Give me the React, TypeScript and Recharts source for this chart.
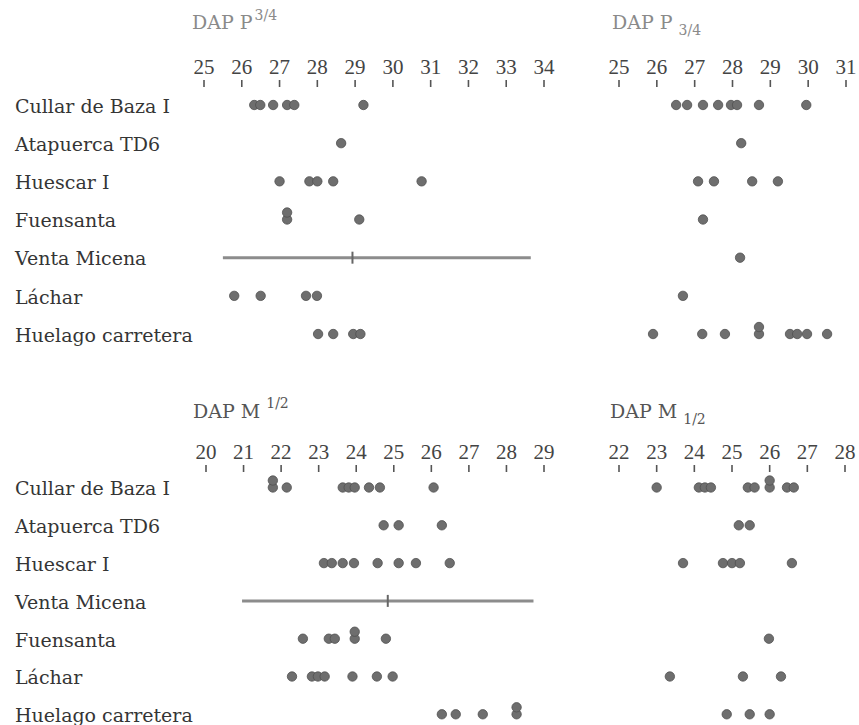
import React from 'react';
import { ScatterChart, Scatter, XAxis, YAxis, ReferenceLine } from 'recharts';

const rowsTopLabels = ['Cullar de Baza I', 'Atapuerca TD6', 'Huescar I', 'Fuensanta', 'Venta Micena', 'Láchar', 'Huelago carretera'];
const rowsBottomLabels = ['Cullar de Baza I', 'Atapuerca TD6', 'Huescar I', 'Venta Micena', 'Fuensanta', 'Láchar', 'Huelago carretera'];

const ticksP34 = [25, 26, 27, 28, 29, 30, 31, 32, 33, 34];
const ticksP34low = [25, 26, 27, 28, 29, 30, 31];
const ticksM12 = [20, 21, 22, 23, 24, 25, 26, 27, 28, 29];
const ticksM12low = [22, 23, 24, 25, 26, 27, 28];

// DAP P3/4 (rows in rowsTopLabels order); repeated values are stacked dots
const p34Values: number[][] = [
  [26.33, 26.49, 26.83, 27.2, 27.39, 29.22],
  [28.63],
  [27.0, 27.79, 28.0, 28.42, 30.76],
  [27.2, 27.2, 29.11],
  [],
  [25.8, 26.5, 27.7, 27.99],
  [28.02, 28.42, 28.95, 29.14],
];
const p34VentaRange = { min: 25.5, mean: 28.93, max: 33.65 };

// DAP P3/4 lower
const p34lowValues: number[][] = [
  [26.51, 26.8, 27.22, 27.62, 27.96, 28.12, 28.7, 29.95],
  [28.23],
  [27.09, 27.51, 28.52, 29.2],
  [27.22],
  [28.2],
  [26.69],
  [25.9, 27.2, 27.8, 28.7, 28.7, 29.52, 29.71, 29.97, 30.5],
];

// DAP M1/2 (rows in rowsBottomLabels order)
const m12Values: number[][] = [
  [21.78, 21.78, 22.15, 23.64, 23.8, 23.96, 24.34, 24.63, 26.06],
  [24.73, 25.13, 26.28],
  [23.14, 23.35, 23.64, 23.94, 24.57, 25.13, 25.59, 26.49],
  [],
  [22.58, 23.27, 23.43, 23.96, 23.96, 24.79],
  [22.29, 22.82, 22.98, 23.16, 23.9, 24.55, 24.97],
  [26.28, 26.65, 27.37, 28.27, 28.27],
];
const m12VentaRange = { min: 20.96, mean: 24.84, max: 28.72 };

// DAP M1/2 lower
const m12lowValues: number[][] = [
  [23.0, 24.12, 24.28, 24.44, 25.42, 25.6, 26.0, 26.0, 26.46, 26.64],
  [25.18, 25.47],
  [23.7, 24.76, 25.0, 25.21, 26.59],
  [],
  [25.98],
  [23.35, 25.29, 26.3],
  [24.86, 25.47, 26.0],
];

const SERIF = 'DejaVu Serif';
const TICK_SERIF = 'Liberation Serif';
const ROW_TICKS = [0, 1, 2, 3, 4, 5, 6];

type Pt = { x: number; y: number; s: number };

function buildPoints(rows: number[][]): Pt[] {
  const pts: Pt[] = [];
  rows.forEach((vals, r) => {
    vals.forEach((v, j) => {
      const s = vals.slice(0, j).filter((u) => u === v).length;
      pts.push({ x: v, y: r, s });
    });
  });
  return pts;
}

const Dot = (props: any) => {
  const { cx, cy, payload } = props;
  if (cx == null || cy == null) return null;
  return <circle cx={cx} cy={cy - (payload?.s || 0) * 7} r={4.7} fill="#6e6e6e" stroke="#505050" strokeWidth={0.8} />;
};

const MeanTick = (props: any) => {
  const { cx, cy } = props;
  if (cx == null || cy == null) return null;
  return <line x1={cx} x2={cx} y1={cy - 6} y2={cy + 6} stroke="#666" strokeWidth={2} />;
};

const XTick = (tp: any) => {
  const { x, y, payload } = tp;
  return (
    <text x={x} y={y} textAnchor="middle" fill="#444" fontSize={21} fontFamily={TICK_SERIF} style={{ fontFamily: TICK_SERIF }}>
      {payload?.value}
    </text>
  );
};

type PanelProps = {
  left: number;
  top: number;
  width: number;
  plotLeft: number;
  plotRight: number;
  plotTop: number;
  firstRow: number;
  rowGap: number;
  domain: [number, number];
  ticks: number[];
  values: number[][];
  range?: { min: number; mean: number; max: number };
  rangeRow?: number;
  labels?: string[];
};

function Panel(p: PanelProps) {
  const yMin = -(p.firstRow - p.plotTop) / p.rowGap;
  const yMax = 6.45;
  const plotH = (yMax - yMin) * p.rowGap;
  const height = Math.ceil(p.plotTop + plotH + 6);
  const margin = {
    top: p.plotTop - 30,
    right: p.width - p.plotRight,
    bottom: height - p.plotTop - plotH,
    left: p.labels ? 0 : p.plotLeft,
  };
  const points = buildPoints(p.values);
  const labels = p.labels;
  const renderLabel = (tp: any) => {
    const idx = tp.payload?.value;
    if (!labels || idx == null) return null;
    return (
      <text x={15} y={tp.y} dy={7.8} fill="#353535" fontSize={19} fontFamily={SERIF} style={{ fontFamily: SERIF }} textAnchor="start">
        {labels[idx]}
      </text>
    );
  };
  return (
    <div style={{ position: 'absolute', left: p.left, top: p.top }}>
      <ScatterChart width={p.width} height={height} margin={margin}>
        <XAxis
          type="number"
          dataKey="x"
          orientation="top"
          height={30}
          domain={p.domain}
          ticks={p.ticks}
          interval={0}
          tickSize={7}
          tickMargin={6}
          axisLine={false}
          tickLine={{ stroke: '#555', strokeWidth: 1.6 }}
          tick={XTick}
        />
        <YAxis
          type="number"
          dataKey="y"
          reversed
          domain={[yMin, yMax]}
          ticks={ROW_TICKS}
          interval={0}
          width={p.labels ? p.plotLeft : 0}
          hide={!p.labels}
          axisLine={false}
          tickLine={false}
          tick={renderLabel}
        />
        {p.range && (
          <ReferenceLine
            segment={[
              { x: p.range.min, y: p.rangeRow },
              { x: p.range.max, y: p.rangeRow },
            ]}
            stroke="#8c8c8c"
            strokeWidth={3}
          />
        )}
        {p.range && (
          <Scatter
            data={[{ x: p.range.mean, y: p.rangeRow }]}
            shape={MeanTick}
            isAnimationActive={false}
          />
        )}
        <Scatter data={points} shape={Dot} isAnimationActive={false} />
      </ScatterChart>
    </div>
  );
}

export default function App() {
  return (
    <div style={{ position: 'absolute', left: 0, top: 0, width: 859, height: 725, background: '#fff', overflow: 'hidden', fontFamily: SERIF }}>
      <Panel left={0} top={0} width={570} plotLeft={204} plotRight={544} plotTop={87} firstRow={105} rowGap={38.17}
        domain={[25, 34]} ticks={ticksP34} values={p34Values} range={p34VentaRange} rangeRow={4} labels={rowsTopLabels} />
      <Panel left={580} top={0} width={279} plotLeft={39} plotRight={266} plotTop={87} firstRow={105} rowGap={38.17}
        domain={[25, 31]} ticks={ticksP34low} values={p34lowValues} />
      <Panel left={0} top={380} width={570} plotLeft={206} plotRight={544} plotTop={92} firstRow={107.5} rowGap={37.8}
        domain={[20, 29]} ticks={ticksM12} values={m12Values} range={m12VentaRange} rangeRow={3} labels={rowsBottomLabels} />
      <Panel left={580} top={380} width={279} plotLeft={39} plotRight={265} plotTop={92} firstRow={107.5} rowGap={37.8}
        domain={[22, 28]} ticks={ticksM12low} values={m12lowValues} />
      <svg width={859} height={725} style={{ position: 'absolute', left: 0, top: 0, pointerEvents: 'none', fontFamily: SERIF }}>
        <text x={192} y={29} fill="#8a8a8a" fontSize={19}>
          DAP P<tspan dx={2} dy={-9} fontSize={14}>3/4</tspan>
        </text>
        <text x={612} y={29} fill="#8a8a8a" fontSize={19}>
          DAP P<tspan dx={6} dy={6} fontSize={14}>3/4</tspan>
        </text>
        <text x={193} y={418} fill="#555" fontSize={19}>
          DAP M<tspan dx={6} dy={-10} fontSize={14}>1/2</tspan>
        </text>
        <text x={610} y={418} fill="#555" fontSize={19}>
          DAP M<tspan dx={6} dy={6} fontSize={14}>1/2</tspan>
        </text>
      </svg>
    </div>
  );
}
